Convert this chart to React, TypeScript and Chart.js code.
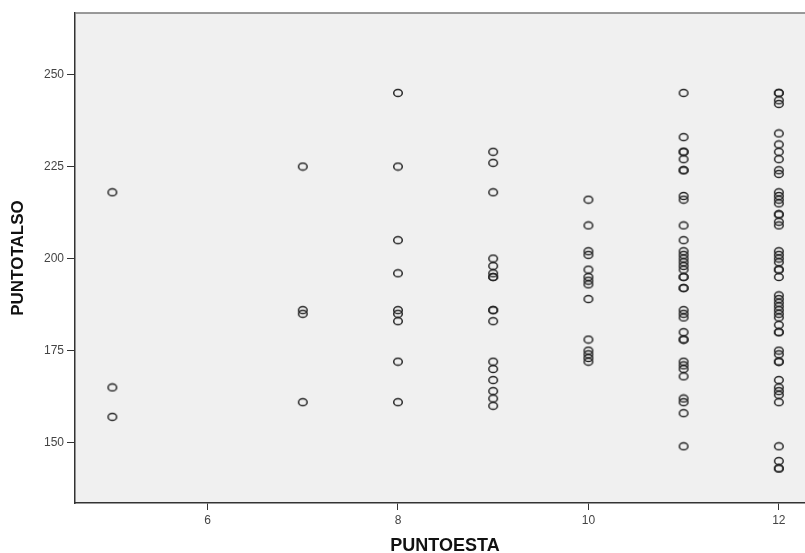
import React, { useEffect, useRef } from "react";
import { Chart, registerables } from "chart.js";

Chart.register(...registerables);

// PUNTOESTA categories present in the data
const puntoesta = [5, 7, 8, 9, 10, 11, 12];

// PUNTOTALSO values observed at each PUNTOESTA value
const totalsoAt5 = [218, 165, 157];
const totalsoAt7 = [225, 186, 185, 161];
const totalsoAt8 = [245, 225, 205, 196, 186, 185, 183, 172, 161];
const totalsoAt9 = [229, 226, 218, 200, 198, 196, 195, 195, 186, 186, 183, 172, 170, 167, 164, 162, 160];
const totalsoAt10 = [216, 209, 202, 201, 197, 195, 194, 193, 189, 178, 175, 174, 173, 172];
const totalsoAt11 = [
  245, 233, 229, 229, 227, 224, 224, 217, 216, 209, 205, 202, 201, 200, 199, 198, 197, 195, 195,
  192, 192, 186, 185, 184, 180, 178, 178, 172, 171, 170, 168, 162, 161, 158, 149,
];
const totalsoAt12 = [
  245, 245, 243, 242, 234, 231, 229, 227, 224, 223, 218, 217, 216, 215, 212, 212, 210, 209, 202,
  201, 200, 199, 197, 197, 195, 190, 189, 188, 187, 186, 185, 184, 182, 180, 180, 175, 174, 172,
  172, 167, 165, 164, 163, 161, 149, 145, 143, 143,
];
const totalsoGroups = [totalsoAt5, totalsoAt7, totalsoAt8, totalsoAt9, totalsoAt10, totalsoAt11, totalsoAt12];

// axis ticks
const xTicks = [6, 8, 10, 12];
const yTicks = [150, 175, 200, 225, 250];
const xTitle = "PUNTOESTA";
const yTitle = "PUNTOTALSO";

const FONT = "'Liberation Sans', Arial, sans-serif";

function makeMarker(): HTMLCanvasElement {
  const c = document.createElement("canvas");
  c.width = 12;
  c.height = 10;
  const g = c.getContext("2d")!;
  g.strokeStyle = "#262626";
  g.lineWidth = 1.5;
  g.beginPath();
  g.ellipse(6, 5, 4.3, 3.6, 0, 0, Math.PI * 2);
  g.stroke();
  return c;
}

const plotFrame = {
  id: "plotFrame",
  beforeDatasetsDraw(chart: any) {
    const { ctx, chartArea } = chart;
    if (!chartArea) return;
    ctx.save();
    ctx.strokeStyle = "#7a7a7a";
    ctx.lineWidth = 1.5;
    ctx.beginPath();
    ctx.moveTo(chartArea.left, chartArea.top);
    ctx.lineTo(chartArea.right, chartArea.top);
    ctx.lineTo(chartArea.right, chartArea.bottom);
    ctx.stroke();
    ctx.restore();
  },
  beforeDraw(chart: any) {
    const { ctx, chartArea } = chart;
    if (!chartArea) return;
    ctx.save();
    ctx.fillStyle = "#ffffff";
    ctx.fillRect(0, 0, chart.width, chart.height);
    ctx.fillStyle = "#f0f0f0";
    ctx.fillRect(chartArea.left, chartArea.top, chartArea.right - chartArea.left, chartArea.bottom - chartArea.top);
    ctx.restore();
  },
};

export default function App() {
  const ref = useRef<HTMLCanvasElement | null>(null);

  useEffect(() => {
    if (!ref.current) return;
    const points: { x: number; y: number }[] = [];
    puntoesta.forEach((xv, i) => {
      totalsoGroups[i].forEach((yv) => points.push({ x: xv, y: yv }));
    });
    const marker = makeMarker();

    const chart = new Chart(ref.current, {
      type: "scatter",
      data: {
        datasets: [
          {
            data: points,
            pointStyle: marker as any,
            pointRadius: 4,
            pointHoverRadius: 4,
            backgroundColor: "rgba(0,0,0,0)",
            borderColor: "#262626",
          },
        ],
      },
      options: {
        animation: false,
        responsive: false,
        events: [],
        layout: { padding: { top: 13, left: 0, right: 5, bottom: 0 } },
        plugins: { legend: { display: false }, tooltip: { enabled: false } },
        scales: {
          x: {
            type: "linear",
            min: 4.608,
            max: 12.38,
            afterBuildTicks: (s: any) => {
              s.ticks = xTicks.map((v) => ({ value: v }));
            },
            afterFit: (s: any) => {
              s.height = 50;
            },
            grid: { drawOnChartArea: false, drawTicks: true, tickLength: 7, color: "#333", lineWidth: 1 },
            border: { display: true, color: "#333", width: 1.5 },
            ticks: { color: "#444", font: { family: FONT, size: 12 }, padding: 3, maxRotation: 0 },
            title: {
              display: true,
              text: xTitle,
              color: "#111",
              font: { family: FONT, size: 18, weight: "bold", lineHeight: 1 },
              padding: { top: 0, bottom: -2 },
            },
          },
          y: {
            type: "linear",
            min: 133.6,
            max: 266.7,
            afterBuildTicks: (s: any) => {
              s.ticks = yTicks.map((v) => ({ value: v }));
            },
            afterFit: (s: any) => {
              s.width = 75;
            },
            grid: { drawOnChartArea: false, drawTicks: true, tickLength: 8, color: "#333", lineWidth: 1 },
            border: { display: true, color: "#333", width: 1.5 },
            ticks: { color: "#444", font: { family: FONT, size: 12 }, padding: 3 },
            title: {
              display: true,
              text: yTitle,
              color: "#111",
              font: { family: FONT, size: 17, weight: "bold", lineHeight: 1 },
              padding: { top: 10, bottom: 0 },
            },
          },
        },
      },
      plugins: [plotFrame],
    });
    return () => chart.destroy();
  }, []);

  return (
    <div style={{ position: "absolute", left: 0, top: 0, width: 805, height: 553, overflow: "hidden", background: "#fff" }}>
      <canvas ref={ref} width={820} height={553} style={{ display: "block" }} />
    </div>
  );
}
